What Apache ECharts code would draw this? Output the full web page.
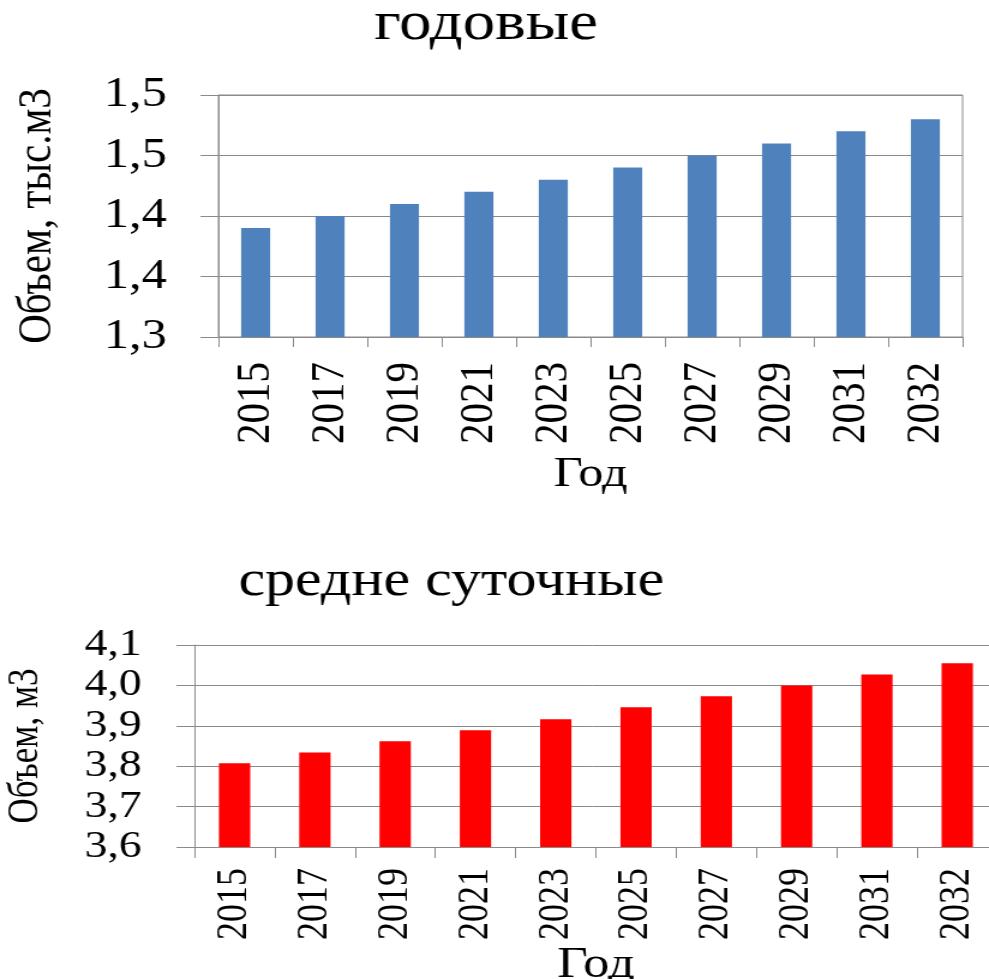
<!DOCTYPE html>
<html>
<head>
<meta charset="utf-8">
<script src="https://cdn.jsdelivr.net/npm/echarts@6/dist/echarts.min.js"></script>
<style>
  html, body { margin: 0; padding: 0; background: #fff; overflow: hidden; }
  #chart { width: 824px; height: 979px; transform: scaleX(1.2002); transform-origin: 0 0; }
</style>
</head>
<body>
<div id="chart"></div>
<script>
const years = ['2015','2017','2019','2021','2023','2025','2027','2029','2031','2032'];
const annualVolume = [1.39, 1.40, 1.41, 1.42, 1.43, 1.44, 1.45, 1.46, 1.47, 1.48];
const dailyVolume = [3.807, 3.834, 3.862, 3.889, 3.916, 3.946, 3.973, 4.000, 4.027, 4.055];
const annualTickLabels = ['1,3','1,4','1,4','1,5','1,5'];
const dailyTickLabels = ['3,6','3,7','3,8','3,9','4,0','4,1'];
const annualTitle = 'годовые';
const dailyTitle = 'средне суточные';
const annualYName = 'Объем, тыс.м3';
const dailyYName = 'Объем, м3';
const xName = 'Год';

const FONT = '"Liberation Serif", "Times New Roman", serif';
const GREY = '#8a8a8a';

const chart = echarts.init(document.getElementById('chart'), null, { renderer: 'canvas' });
chart.setOption({
  animation: false,
  backgroundColor: '#ffffff',
  textStyle: { fontFamily: FONT, color: '#000' },
  graphic: [
    { type: 'text', x: 405, y: 25, style: { text: annualTitle, font: '54px ' + FONT, fill: '#000', align: 'center', verticalAlign: 'middle' } },
    { type: 'text', x: 376, y: 582, style: { text: dailyTitle, font: '50px ' + FONT, fill: '#000', align: 'center', verticalAlign: 'middle' } }
  ],
  grid: [
    { left: 182, right: 22, top: 95, bottom: 642, containLabel: false, outerBoundsMode: 'none',
      show: true, borderColor: GREY, borderWidth: 1, backgroundColor: 'transparent' },
    { left: 162, right: -7, top: 645, bottom: 132, containLabel: false, outerBoundsMode: 'none' }
  ],
  xAxis: [
    { type: 'category', gridIndex: 0, data: years,
      name: xName, nameLocation: 'middle', nameGap: 117,
      nameTextStyle: { fontFamily: FONT, fontSize: 42, color: '#000' },
      axisLine: { lineStyle: { color: GREY, width: 1 } },
      axisTick: { show: true, length: 10, lineStyle: { color: GREY } },
      axisLabel: { rotate: 90, margin: 25, fontFamily: FONT, fontSize: 41, color: '#000', interval: 0 } },
    { type: 'category', gridIndex: 1, data: years,
      name: xName, nameLocation: 'middle', nameGap: 96,
      nameTextStyle: { fontFamily: FONT, fontSize: 44, color: '#000' },
      axisLine: { lineStyle: { color: GREY, width: 1 } },
      axisTick: { show: true, length: 11, lineStyle: { color: GREY } },
      axisLabel: { rotate: 90, margin: 21, fontFamily: FONT, fontSize: 36, color: '#000', interval: 0 } }
  ],
  yAxis: [
    { type: 'value', gridIndex: 0, min: 1.3, max: 1.5, interval: 0.05,
      name: annualYName, nameLocation: 'middle', nameRotate: 90, nameGap: 130,
      nameTextStyle: { fontFamily: FONT, fontSize: 41, color: '#000' },
      axisLine: { show: true, lineStyle: { color: GREY, width: 1 } },
      axisTick: { show: true, length: 15, lineStyle: { color: GREY } },
      splitLine: { show: true, lineStyle: { color: GREY, width: 1 } },
      axisLabel: { margin: 43, fontFamily: FONT, fontSize: 42, color: '#000',
        formatter: function (v) { return annualTickLabels[Math.round((v - 1.3) / 0.05)]; } } },
    { type: 'value', gridIndex: 1, min: 3.6, max: 4.1, interval: 0.1,
      name: dailyYName, nameLocation: 'middle', nameRotate: 90, nameGap: 123,
      nameTextStyle: { fontFamily: FONT, fontSize: 35, color: '#000' },
      axisLine: { show: true, lineStyle: { color: GREY, width: 1 } },
      axisTick: { show: true, length: 15, lineStyle: { color: GREY } },
      splitLine: { show: true, lineStyle: { color: GREY, width: 1 } },
      axisLabel: { margin: 44, fontFamily: FONT, fontSize: 38, color: '#000',
        formatter: function (v) { return dailyTickLabels[Math.round((v - 3.6) / 0.1)]; } } }
  ],
  series: [
    { type: 'bar', xAxisIndex: 0, yAxisIndex: 0, data: annualVolume, barWidth: '39%',
      itemStyle: { color: '#4F81BD' } },
    { type: 'bar', xAxisIndex: 1, yAxisIndex: 1, data: dailyVolume, barWidth: '39%',
      itemStyle: { color: '#FF0000' } }
  ]
});
</script>
</body>
</html>
